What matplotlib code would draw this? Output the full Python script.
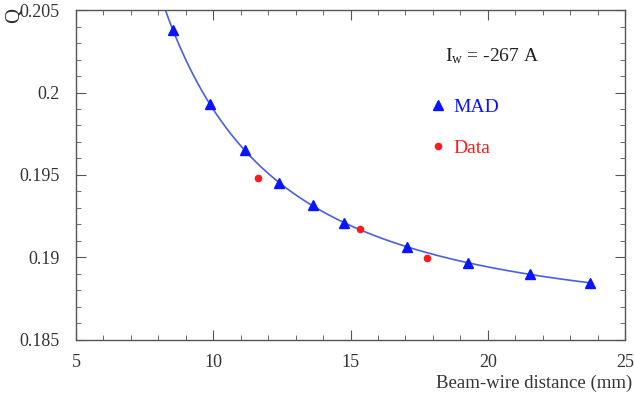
"""Q versus beam-wire distance: MAD model and measured data"""

import numpy as np
import matplotlib.pyplot as plt
from matplotlib.ticker import MultipleLocator

# MAD model points
mad_x = [8.53, 9.87, 11.15, 12.38, 13.62, 14.78, 17.04, 19.29, 21.55, 23.73]
mad_q = [0.20379, 0.19930, 0.19652, 0.19452, 0.19318, 0.19209, 0.19064, 0.18967, 0.18900, 0.18845]

# Measured data points
data_x = [11.63, 15.36, 17.79]
data_q = [0.19484, 0.19173, 0.18995]

x_ticks = [5, 10, 15, 20, 25]
y_ticks = [0.185, 0.19, 0.195, 0.2, 0.205]

plt.rcParams["font.family"] = ["Liberation Serif", "DejaVu Serif"]
plt.rcParams["mathtext.fontset"] = "custom"
plt.rcParams["mathtext.rm"] = "Liberation Serif"

fig = plt.figure(figsize=(6.34, 3.97), dpi=100)
ax = fig.add_axes([0.1199, 0.1436, 0.8659, 0.8312])

# smooth curve fitted through the MAD points (polynomial in 1/x)
coef = np.polyfit(1 / np.array(mad_x), mad_q, 3)
xs = np.linspace(8.2, 23.8, 300)
ax.plot(xs, np.polyval(coef, 1 / xs), color="#4a5fe0", lw=1.2, zorder=2)

ax.plot(mad_x, mad_q, ls="none", marker="^", ms=7.5, color="#0a14ff",
        label="MAD", zorder=3)
ax.plot(data_x, data_q, ls="none", marker="o", ms=5.5, color="#ff1a1a",
        mec="none", label="Data", zorder=3)

ax.set_xlim(5, 25)
ax.set_ylim(0.185, 0.205)
ax.set_xticks(x_ticks)
ax.set_yticks(y_ticks)
ax.set_xticklabels([str(t) for t in x_ticks])
ax.set_yticklabels(["0.185", "0.19", "0.195", "0.2", "0.205"])
ax.xaxis.set_minor_locator(MultipleLocator(1))
ax.yaxis.set_minor_locator(MultipleLocator(0.001))

for s in ax.spines.values():
    s.set_color("#555555")
    s.set_linewidth(1.0)
ax.tick_params(which="both", direction="in", top=True, right=True,
               colors="#555555", labelcolor="#333333", labelsize=13)
ax.tick_params(axis="y", which="major", pad=12)
ax.tick_params(axis="x", which="major", pad=10)
ax.tick_params(which="major", length=7)
ax.tick_params(which="minor", length=3.5)

ax.set_xlabel("Beam-wire distance (mm)", fontsize=13.5, color="#333333")
ax.xaxis.set_label_coords(1.014, -0.105)
ax.xaxis.label.set_horizontalalignment("right")

fig.text(15 / 634, 1 - 15 / 397, "Q", rotation=90, fontsize=15,
         color="#333333", ha="center", va="center")

ax.text(0.673, 0.845, r"$\mathregular{I_w}$ = -267 A", transform=ax.transAxes,
        fontsize=14, color="#222222")

leg = ax.legend(loc="upper left", bbox_to_anchor=(0.635, 0.755), frameon=False,
                fontsize=14, handlelength=0.6, handletextpad=0.5,
                labelspacing=1.2, labelcolor="linecolor", borderaxespad=0)

fig.savefig("out.png", dpi=100)
